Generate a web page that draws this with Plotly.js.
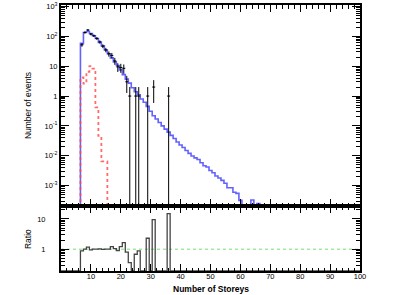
<!DOCTYPE html>
<html><head><meta charset="utf-8">
<script src="https://cdn.plot.ly/plotly-3.0.1.min.js"></script>
<style>html,body{margin:0;padding:0;background:#fff;overflow:hidden}</style>
</head><body><div id="c" style="width:415px;height:295px"></div>
<script>
// ---------------- data ----------------
const mcBins = [7,8,9,10,11,12,13,14,15,16,17,18,19,20,21,22,23,24,25,26,27,28,29,30,31,32,33,34,35,36,37,38,39,40,41,42,43,44,45,46,47,48,49,50,51,52,53,54,55,56,57,58,59,60,64,66];
const mcVals = [58,135,145,125,105,85,63,48,35,26,19,14,10.5,7.5,5.2,3.7,2.7,1.9,1.4,1.1,0.8,0.62,0.45,0.31,0.22,0.17,0.13,0.10,0.078,0.062,0.048,0.038,0.029,0.023,0.019,0.015,0.012,0.0098,0.0085,0.0075,0.0058,0.0046,0.0042,0.0032,0.0027,0.0021,0.0018,0.0015,0.0012,0.00085,0.00085,0.0006,0.00055,0.00032,0.00033,0.00025];

const sigBins = [7,8,9,10,11,12,13,14,15];
const sigVals = [4.2,2.6,6.5,10,8.3,0.42,0.046,0.0065,0.0065];

const dataBins = [7,8,9,10,11,12,13,14,15,16,17,18,19,20,21,22,23,25,26,29,31,36];
const dataVals = [52,135,163,119,105,85,65,47,35,26,23,15,9.5,9,8.5,3,1,1,1,1,2,1];

const ratioBins = [7,8,9,10,11,12,13,14,15,16,17,18,19,20,21,22,23,25,26,29,31,36];
const ratioVals = [0.88,1.0,1.17,0.95,1.0,1.0,1.03,0.98,1.0,1.0,1.22,1.05,0.9,1.22,1.65,0.8,0.36,0.68,0.88,2.3,9.5,15];

const refLineY = 1;
const xTickVals = [10,20,30,40,50,60,70,80,90,100];
const yTickVals = [1e-3,1e-2,1e-1,1,10,100,1000];
const yTickText = ['10<sup>-3</sup>','10<sup>-2</sup>','10<sup>-1</sup>','1','10','10<sup>2</sup>','10<sup>3</sup>'];
const rTickVals = [1,10];
const rTickText = ['1','10'];

// ---------------- helpers ----------------
const Y1 = [-3.7, 3.05];
const Y2 = [-0.72, 1.41];
const FLOOR1 = Math.pow(10, Y1[0]);
const FLOOR2 = Math.pow(10, Y2[0]);
const centers = Array.from({length:101}, (_, i) => i);
function fullHist(bins, vals, floor){
  const m = {}; bins.forEach((b,i)=>m[b]=vals[i]);
  return centers.map(c => (m[c] !== undefined && m[c] > 0) ? m[c] : floor);
}
function minorLog(lo, hi){
  const out = [];
  for (let d = Math.floor(lo)-1; d <= Math.ceil(hi); d++)
    for (let k = 2; k <= 9; k++){ const v = k*Math.pow(10,d); const l = Math.log10(v); if (l>lo && l<hi) out.push(v); }
  return out;
}

const FONT = 'Liberation Sans, Arial, sans-serif';
const traces = [
  {x: centers, y: fullHist(mcBins, mcVals, FLOOR1), mode:'lines', line:{shape:'hvh', color:'rgba(70,70,255,0.85)', width:1.6}, xaxis:'x', yaxis:'y', hoverinfo:'skip'},
  {x: centers, y: fullHist(sigBins, sigVals, FLOOR1), mode:'lines', line:{shape:'hvh', color:'rgba(255,70,70,0.8)', width:1.8, dash:'dot'}, xaxis:'x', yaxis:'y', hoverinfo:'skip'},
  {x: dataBins, y: dataVals, mode:'markers', marker:{size:1, color:'#000'},
   error_x:{type:'data', array: dataBins.map(()=>0.5), width:0, thickness:1, color:'#000'},
   error_y:{type:'data', array: dataVals.map(v=>Math.sqrt(v)), arrayminus: dataVals.map(v=>Math.min(Math.sqrt(v), v - FLOOR1/10)), width:0, thickness:1, color:'#000'},
   xaxis:'x', yaxis:'y', hoverinfo:'skip'},
  {x: [0,100], y: [refLineY, refLineY], mode:'lines', line:{color:'rgba(60,210,60,0.9)', width:0.8, dash:'3px,3px'}, xaxis:'x2', yaxis:'y2', hoverinfo:'skip'},
  {x: centers, y: fullHist(ratioBins, ratioVals, FLOOR2), mode:'lines', line:{shape:'hvh', color:'#444', width:1.3}, xaxis:'x2', yaxis:'y2', hoverinfo:'skip'}
];

const axBase = {showline:true, linewidth:2, linecolor:'#000', mirror:'ticks', ticks:'inside', tickcolor:'#000', showgrid:false, zeroline:false, tickfont:{family:FONT, size:7.5, color:'#000'}};
const layout = {
  width:415, height:295, margin:{l:61, r:55, t:5, b:24},
  paper_bgcolor:'#fff', plot_bgcolor:'#fff', showlegend:false,
  xaxis: Object.assign({}, axBase, {domain:[0,1], anchor:'y', range:[0,100], tickmode:'array', tickvals:xTickVals, showticklabels:false, ticklen:7, tickwidth:1, minor:{dtick:2, tick0:0, ticklen:3.5, tickcolor:'#000', ticks:'inside'}}),
  yaxis: Object.assign({}, axBase, {domain:[0.2425,1], anchor:'x', type:'log', range:Y1, tickmode:'array', tickvals:yTickVals, ticktext:yTickText, ticklen:8, minor:{tickmode:'array', tickvals:minorLog(Y1[0],Y1[1]), ticklen:4, tickcolor:'#000', ticks:'inside'}}),
  xaxis2: Object.assign({}, axBase, {domain:[0,1], anchor:'y2', range:[0,100], tickmode:'array', tickvals:xTickVals, ticklen:7, ticklabelstandoff:-3, minor:{dtick:2, tick0:0, ticklen:3.5, tickcolor:'#000', ticks:'inside'}}),
  yaxis2: Object.assign({}, axBase, {domain:[0,0.2425], anchor:'x2', type:'log', range:Y2, tickmode:'array', tickvals:rTickVals, ticktext:rTickText, ticklen:8, ticklabelstandoff:12, minor:{tickmode:'array', tickvals:minorLog(Y2[0],Y2[1]), ticklen:4, tickcolor:'#000', ticks:'inside'}}),
  annotations:[
    {text:'Number of events', xref:'paper', yref:'paper', x:0, y:0.62, xshift:-33, textangle:-90, showarrow:false, font:{family:FONT, size:8.5, color:'#000'}, xanchor:'center', yanchor:'middle'},
    {text:'Ratio', xref:'paper', yref:'paper', x:0, y:0.12, xshift:-33, textangle:-90, showarrow:false, font:{family:FONT, size:8.5, color:'#000'}, xanchor:'center', yanchor:'middle'},
    {text:'<b>Number of Storeys</b>', xref:'paper', yref:'paper', x:0.5, y:0, yshift:-17.5, showarrow:false, font:{family:FONT, size:8.5, color:'#000'}, xanchor:'center', yanchor:'middle'}
  ]
};
Plotly.newPlot('c', traces, layout, {staticPlot:true, displayModeBar:false});
</script>
</body></html>
